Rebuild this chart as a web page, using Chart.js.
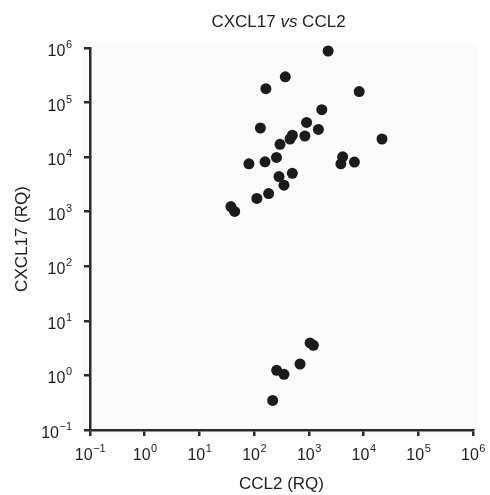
<!DOCTYPE html>
<html>
<head>
<meta charset="utf-8">
<script src="https://cdn.jsdelivr.net/npm/chart.js@4"></script>
<style>
  html, body { margin: 0; padding: 0; background: #ffffff; }
  #wrap { width: 490px; height: 495px; }
</style>
</head>
<body>
<div id="wrap"><canvas id="c" width="490" height="495"></canvas></div>
<script>
// ---- data (log-log scatter) ----
const ccl2 = [2250, 371, 164, 8320, 1726, 130, 908, 1494, 846, 499, 453, 297, 21700, 256, 158, 80.3, 4150, 3850, 6800, 285, 499, 351, 184, 112, 37.6, 44.1, 1052, 1211, 690, 258, 351, 218];
const cxcl17 = [881000, 296000, 180000, 159000, 74200, 34200, 43300, 32200, 24400, 25200, 21500, 17200, 21500, 9860, 8220, 7550, 10150, 7550, 8120, 4410, 5050, 3070, 2150, 1755, 1240, 1010, 3.94, 3.57, 1.62, 1.24, 1.05, 0.348];
const tickExponents = [-1, 0, 1, 2, 3, 4, 5, 6];
const titleParts = [["CXCL17 ", false], ["vs", true], [" CCL2", false]];
const xTitle = "CCL2 (RQ)";
const yTitle = "CXCL17 (RQ)";

const FONT = "'Liberation Sans', Arial, Helvetica, sans-serif";
const points = ccl2.map((v, i) => ({ x: v, y: cxcl17[i] }));

const labelPlugin = {
  id: 'labels',
  beforeDraw(chart) {
    const ctx = chart.ctx;
    ctx.save();
    ctx.fillStyle = '#ffffff';
    ctx.fillRect(0, 0, chart.width, chart.height);
    const a = chart.chartArea;
    ctx.fillStyle = '#fbfbfb';
    ctx.fillRect(a.left - 8, a.top - 6, a.right - a.left + 12, a.bottom - a.top + 14);
    ctx.restore();
  },
  afterDraw(chart) {
    const ctx = chart.ctx;
    const xs = chart.scales.x, ys = chart.scales.y;
    const a = chart.chartArea;
    ctx.save();
    ctx.fillStyle = '#1e1e1e';
    ctx.textBaseline = 'alphabetic';
    ctx.textAlign = 'left';
    const baseFont = '16px ' + FONT;
    const supFont = '11px ' + FONT;
    const supText = e => (e < 0 ? '\u2212' + Math.abs(e) : String(e));
    // x tick labels
    tickExponents.forEach(e => {
      const px = xs.getPixelForValue(Math.pow(10, e));
      ctx.font = baseFont; const wb = ctx.measureText('10').width;
      ctx.font = supFont; const s = supText(e); const ws = ctx.measureText(s).width;
      const start = px - (wb + ws) / 2;
      ctx.font = baseFont; ctx.fillText('10', start, a.bottom + 30);
      ctx.font = supFont; ctx.fillText(s, start + wb + 0.5, a.bottom + 22);
    });
    // y tick labels
    tickExponents.forEach(e => {
      const py = ys.getPixelForValue(Math.pow(10, e));
      ctx.font = baseFont; const wb = ctx.measureText('10').width;
      ctx.font = supFont; const s = supText(e); const ws = ctx.measureText(s).width;
      const right = a.left - 18;
      const start = right - ws - wb - 0.5;
      ctx.font = baseFont; ctx.fillText('10', start, py + 8);
      ctx.font = supFont; ctx.fillText(s, start + wb + 0.5, py);
    });
    // title with italic "vs"
    const tf = '17px ' + FONT;
    let total = 0;
    titleParts.forEach(([t, it]) => {
      ctx.font = (it ? 'italic ' : '') + tf;
      total += ctx.measureText(t).width;
    });
    let tx = (a.left + a.right) / 2 - 3 - total / 2;
    titleParts.forEach(([t, it]) => {
      ctx.font = (it ? 'italic ' : '') + tf;
      ctx.fillText(t, tx, 27);
      tx += ctx.measureText(t).width;
    });
    // axis titles
    ctx.font = tf;
    ctx.textAlign = 'center';
    ctx.fillText(xTitle, (a.left + a.right) / 2, 489);
    ctx.save();
    ctx.translate(22, (a.top + a.bottom) / 2);
    ctx.rotate(-Math.PI / 2);
    ctx.textBaseline = 'middle';
    ctx.fillText(yTitle, 0, 0);
    ctx.restore();
    ctx.restore();
  }
};

const axisCommon = (fitFn) => ({
  type: 'logarithmic',
  min: 0.1,
  max: 1e6,
  afterBuildTicks: s => { s.ticks = tickExponents.map(e => ({ value: Math.pow(10, e) })); },
  afterFit: fitFn,
  ticks: { display: false },
  grid: { display: true, drawOnChartArea: false, drawTicks: true, tickLength: 6, color: '#2a2a2a', lineWidth: 2.5 },
  border: { display: true, color: '#2a2a2a', width: 2.5 }
});

new Chart(document.getElementById('c'), {
  type: 'scatter',
  data: {
    datasets: [{
      data: points,
      backgroundColor: '#1b1b1b',
      borderColor: '#1b1b1b',
      borderWidth: 0,
      pointRadius: 5.5,
      pointHoverRadius: 5.5,
      clip: false
    }]
  },
  options: {
    responsive: false,
    animation: false,
    devicePixelRatio: 1,
    layout: { padding: { left: 0, right: 17, top: 48, bottom: 0 } },
    plugins: { legend: { display: false }, tooltip: { enabled: false }, title: { display: false } },
    scales: {
      x: axisCommon(s => { s.height = 65; }),
      y: axisCommon(s => { s.width = 90; })
    }
  },
  plugins: [labelPlugin]
});
</script>
</body>
</html>
